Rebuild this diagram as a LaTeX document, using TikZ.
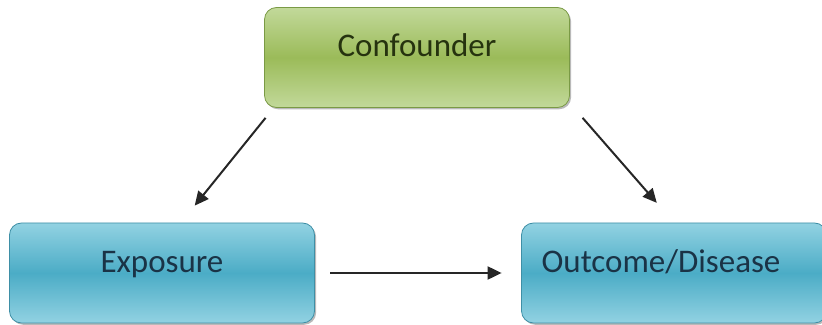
\documentclass[tikz,border=0pt]{standalone}
\usepackage{fontspec}
\setmainfont{Carlito}
\usetikzlibrary{arrows.meta,shadows}
\definecolor{greenlight}{HTML}{C2D99A}
\definecolor{greenmid}{HTML}{9BBB59}
\definecolor{greenline}{HTML}{7A9A45}
\definecolor{greentext}{HTML}{26330F}
\definecolor{bluelight}{HTML}{92D2E2}
\definecolor{bluemid}{HTML}{4BACC6}
\definecolor{blueline}{HTML}{3E8FA6}
\definecolor{bluetext}{HTML}{1A3346}
\begin{document}
\begin{tikzpicture}[x=.5pt,y=-.5pt,
    box/.style={rounded corners=6pt,line width=.4pt,minimum width=152.5pt,minimum height=50pt,
      text height=12pt,text depth=12.5pt,font=\fontsize{16.5}{20}\selectfont,
      drop shadow={shadow xshift=.8pt,shadow yshift=-.9pt,opacity=.55}},
    greenbox/.style={box,draw=greenline,top color=greenlight,bottom color=greenlight,middle color=greenmid,text=greentext},
    bluebox/.style={box,draw=blueline,top color=bluelight,bottom color=bluelight,middle color=bluemid,text=bluetext},
    arr/.style={draw=black!85,line width=1pt,-{Triangle[length=7pt,width=6.5pt]}}]
  \useasboundingbox (0,0) rectangle (822,325);
  \node[greenbox] (conf) at (417,57.5) {Confounder};
  \node[bluebox] (expo) at (162,273) {Exposure};
  \node[bluebox] (outc) at (674,273) {Outcome/Disease\hspace*{13pt}};

  \draw[arr,shorten <=6.4pt,shorten >=10.9pt] ([xshift=4.75pt]conf.south west) -- ([xshift=9.5pt]expo.north);
  \draw[arr,shorten <=6.6pt,shorten >=13.1pt] ([xshift=2pt]conf.south east) -- (outc.north);
  \draw[arr,shorten <=7.75pt,shorten >=9.75pt] (expo) -- (outc);
\end{tikzpicture}
\end{document}
